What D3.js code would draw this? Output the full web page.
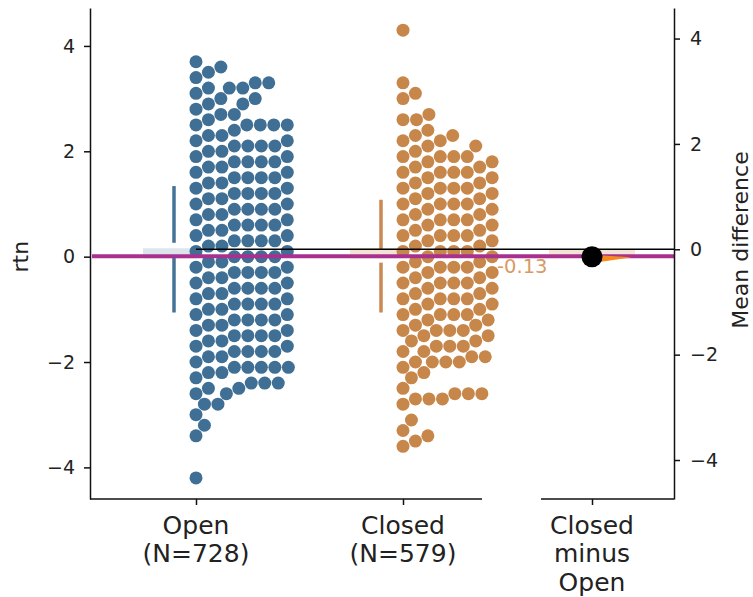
<!DOCTYPE html>
<html>
<head>
<meta charset="utf-8">
<script src="https://cdn.jsdelivr.net/npm/d3@7"></script>
<style>
  body { margin: 0; background: #fff; }
  svg text { font-family: "DejaVu Sans", sans-serif; fill: #222; }
</style>
</head>
<body>
<svg id="chart" width="753" height="597"></svg>
<script>
// ---- data -------------------------------------------------------------
const groups = ["Open", "Closed"];
const groupN = [728, 579];

// rtn values (rounded to 0.1) and how many plotted observations share each value
const openValues = [3.7, 3.6, 3.5, 3.4, 3.3, 3.2, 3.1, 3.0, 2.9, 2.8, 2.7, 2.6, 2.5, 2.4, 2.3,
  2.2, 2.1, 2.0, 1.9, 1.8, 1.7, 1.6, 1.5, 1.4, 1.3, 1.2, 1.1, 1.0, 0.9, 0.8, 0.7, 0.6, 0.5,
  0.4, 0.3, 0.2, 0.1, 0.0, -0.1, -0.2, -0.3, -0.4, -0.5, -0.6, -0.7, -0.8, -0.9, -1.0, -1.1,
  -1.2, -1.3, -1.4, -1.5, -1.6, -1.7, -1.8, -1.9, -2.0, -2.1, -2.2, -2.3, -2.4, -2.5, -2.6,
  -2.8, -3.0, -3.2, -3.4, -4.2];
const openCounts = [1, 1, 1, 1, 2, 3, 1, 2, 2, 1, 2, 1, 5, 1, 2,
  2, 4, 2, 2, 4, 2, 2, 4, 2, 2, 4, 2, 2, 4, 2, 2, 4, 2,
  2, 4, 2, 2, 4, 2, 2, 4, 2, 2, 4, 2, 2, 4, 2, 2,
  4, 2, 2, 4, 2, 2, 4, 2, 1, 5, 2, 1, 3, 2, 2,
  2, 1, 1, 1, 1];

const closedValues = [4.3, 3.3, 3.1, 3.0, 2.7, 2.6, 2.4, 2.3, 2.2, 2.1, 2.0,
  1.9, 1.8, 1.7, 1.6, 1.5, 1.4, 1.3, 1.2, 1.1, 1.0, 0.9, 0.8, 0.7, 0.6, 0.5, 0.4, 0.3,
  0.2, 0.1, 0.0, -0.1, -0.2, -0.3, -0.4, -0.5, -0.6, -0.7, -0.8, -0.9, -1.0, -1.1,
  -1.2, -1.3, -1.4, -1.5, -1.6, -1.7, -1.8, -1.9, -2.0, -2.1, -2.2, -2.3, -2.5, -2.6,
  -2.7, -2.8, -3.1, -3.3, -3.4, -3.5, -3.6];
const closedCounts = [1, 1, 1, 1, 1, 2, 1, 2, 2, 2, 1,
  4, 2, 2, 4, 2, 2, 4, 2, 2, 4, 2, 2, 4, 2, 2, 4, 2,
  2, 4, 2, 2, 4, 2, 2, 4, 2, 2, 4, 2, 2, 4,
  2, 2, 4, 2, 2, 3, 2, 2, 4, 1, 1, 1, 1, 3,
  3, 1, 1, 1, 1, 1, 1];

// group summaries (mean and standard deviation of rtn)
const groupMeans = [0.14, 0.01];
const groupSDs = [1.2, 1.07];

// effect size: mean difference Closed − Open
const deltaLabel = "Closed minus Open";
const meanDiff = -0.13;

const yTicks = [-4, -2, 0, 2, 4];
const deltaTicks = [-4, -2, 0, 2, 4];

// ---- layout -----------------------------------------------------------
const axisLeftX = 90, axisRightX = 674;
const plotTop = 8, plotBottom = 499;
const rawAxisEnd = 482, deltaAxisStart = 541;

const colors = { Open: "#3f6f94", Closed: "#c8874a" };
const barColors = { Open: "#44739a", Closed: "#c98a52" };
const paleColors = { Open: "#dce4ec", Closed: "#f3e3d4" };
const purple = "#a8308f";
const deltaOrange = "#f68a1f";
const labelOrange = "#d99a66";

const dotR = 6.5;
const swarmGap = 13.5;   // minimum centre distance between two swarm dots

const svg = d3.select("#chart");

const y = d3.scaleLinear().domain([-4.6, 4.72]).range([plotBottom, plotTop]);
// delta axis shares the unit length, with zero on the reference (Open) mean
const yDelta = d3.scaleLinear()
  .domain([-4.6 - groupMeans[0], 4.72 - groupMeans[0]])
  .range([plotBottom, plotTop]);

const x = d3.scalePoint().domain(groups).range([196, 403]);
const xDelta = d3.scalePoint().domain([deltaLabel]).range([592, 592]);

function expand(values, counts) {
  const out = [];
  values.forEach((v, i) => { for (let k = 0; k < counts[i]; k++) out.push(v); });
  return out;
}

// one-sided beeswarm: each point, taken in ascending order, goes to the
// smallest offset to the right that does not overlap earlier points
function swarm(values) {
  const sorted = values.slice().sort((a, b) => a - b);
  const placed = [];
  const D2 = swarmGap * swarmGap;
  for (const v of sorted) {
    const py = y(v);
    const near = placed.filter(p => Math.abs(p.y - py) < swarmGap);
    const cands = [0];
    for (const p of near) {
      const dx = Math.sqrt(D2 - (p.y - py) * (p.y - py));
      cands.push(p.x + dx);
      if (p.x - dx >= 0) cands.push(p.x - dx);
    }
    cands.sort((a, b) => a - b);
    let chosen = cands[cands.length - 1];
    for (const c of cands) {
      if (near.every(p => (p.x - c) ** 2 + (p.y - py) ** 2 >= D2 - 1e-6)) { chosen = c; break; }
    }
    placed.push({ v, x: chosen, y: py });
  }
  return placed;
}

const groupData = {
  Open: expand(openValues, openCounts),
  Closed: expand(closedValues, closedCounts)
};

// ---- pale mean bands --------------------------------------------------
groups.forEach((g, i) => {
  svg.append("rect")
    .attr("x", x(g) - 53).attr("width", 53)
    .attr("y", y(groupMeans[0]) - 1).attr("height", 10)
    .attr("fill", paleColors[g]);
});
svg.append("rect")
  .attr("x", xDelta(deltaLabel) - 43).attr("width", 86)
  .attr("y", yDelta(0)).attr("height", yDelta(meanDiff) - yDelta(0))
  .attr("fill", "#f4e4d6");

// ---- swarms -----------------------------------------------------------
groups.forEach(g => {
  const pts = swarm(groupData[g]);
  svg.append("g").selectAll("circle").data(pts).join("circle")
    .attr("cx", d => x(g) + d.x)
    .attr("cy", d => d.y)
    .attr("r", dotR)
    .attr("fill", colors[g]);
});

// ---- mean ± sd bars with a gap at the mean ----------------------------
const gapPx = 6.5;
groups.forEach((g, i) => {
  const bx = x(g) - 22;
  const m = y(groupMeans[i]);
  const top = y(groupMeans[i] + groupSDs[i]);
  const bot = y(groupMeans[i] - groupSDs[i]);
  const bar = svg.append("g").attr("stroke", barColors[g]).attr("stroke-width", 3.5);
  bar.append("line").attr("x1", bx).attr("x2", bx).attr("y1", top).attr("y2", m - gapPx);
  bar.append("line").attr("x1", bx).attr("x2", bx).attr("y1", m + gapPx).attr("y2", bot);
});

// ---- reference lines --------------------------------------------------
svg.append("line")
  .attr("x1", x("Open")).attr("x2", axisRightX)
  .attr("y1", y(groupMeans[0])).attr("y2", y(groupMeans[0]))
  .attr("stroke", "#000").attr("stroke-width", 1.4);
svg.append("line")
  .attr("x1", axisLeftX + 2).attr("x2", axisRightX)
  .attr("y1", yDelta(meanDiff)).attr("y2", yDelta(meanDiff))
  .attr("stroke", purple).attr("stroke-width", 4);

// ---- effect size estimate ---------------------------------------------
const dx0 = xDelta(deltaLabel);
const dy0 = yDelta(meanDiff);
svg.append("path")
  .attr("d", `M${dx0 + 6},${dy0 - 1} L${dx0 + 40},${dy0 + 1} L${dx0 + 6},${dy0 + 6} Z`)
  .attr("fill", deltaOrange);
svg.append("circle")
  .attr("cx", dx0).attr("cy", dy0 + 0.6).attr("r", 10.5).attr("fill", "#000");

svg.append("text")
  .attr("x", 497).attr("y", dy0 + 17)
  .style("font-size", "19.5px").style("fill", labelOrange)
  .text(d3.format(".2f")(meanDiff).replace("−", "-"));

// ---- axes -------------------------------------------------------------
function styleAxis(g) {
  g.selectAll("path, line").attr("stroke", "#111").attr("stroke-width", 1.5);
  g.selectAll("text").style("fill", "#222");
}

const fmt = d => (d < 0 ? "\u2212" + Math.abs(d) : String(d));

const gy = svg.append("g").attr("transform", `translate(${axisLeftX},0)`)
  .call(d3.axisLeft(y).tickValues(yTicks).tickFormat(fmt).tickSize(6).tickSizeOuter(0).tickPadding(9));
gy.selectAll("text").style("font-size", "19px");
styleAxis(gy);

const gyr = svg.append("g").attr("transform", `translate(${axisRightX},0)`)
  .call(d3.axisRight(yDelta).tickValues(deltaTicks).tickFormat(fmt).tickSize(6).tickSizeOuter(0).tickPadding(10));
gyr.selectAll("text").style("font-size", "19px");
styleAxis(gyr);

// bottom axes: raw groups and the delta group
const gx = svg.append("g").attr("transform", `translate(0,${plotBottom})`)
  .call(d3.axisBottom(x).tickSize(6).tickSizeOuter(0).tickFormat(""));
gx.select(".domain").remove();
gx.append("line").attr("x1", axisLeftX).attr("x2", rawAxisEnd);
styleAxis(gx);

const gxd = svg.append("g").attr("transform", `translate(0,${plotBottom})`)
  .call(d3.axisBottom(xDelta).tickSize(6).tickSizeOuter(0).tickFormat(""));
gxd.select(".domain").remove();
gxd.append("line").attr("x1", deltaAxisStart).attr("x2", axisRightX);
styleAxis(gxd);

function multiline(cx, lines) {
  const t = svg.append("text").attr("text-anchor", "middle").style("font-size", "25px");
  lines.forEach((s, i) => {
    t.append("tspan").attr("x", cx).attr("y", 534 + i * 28.4).text(s);
  });
}
groups.forEach((g, i) => multiline(x(g), [g, `(N=${groupN[i]})`]));
multiline(dx0, deltaLabel.split(" "));

// axis titles
svg.append("text")
  .attr("transform", `translate(28,${y(0)}) rotate(-90)`)
  .attr("text-anchor", "middle").style("font-size", "22px").text("rtn");
svg.append("text")
  .attr("transform", `translate(748,240) rotate(-90)`)
  .attr("text-anchor", "middle").style("font-size", "22px").text("Mean difference");
</script>
</body>
</html>
